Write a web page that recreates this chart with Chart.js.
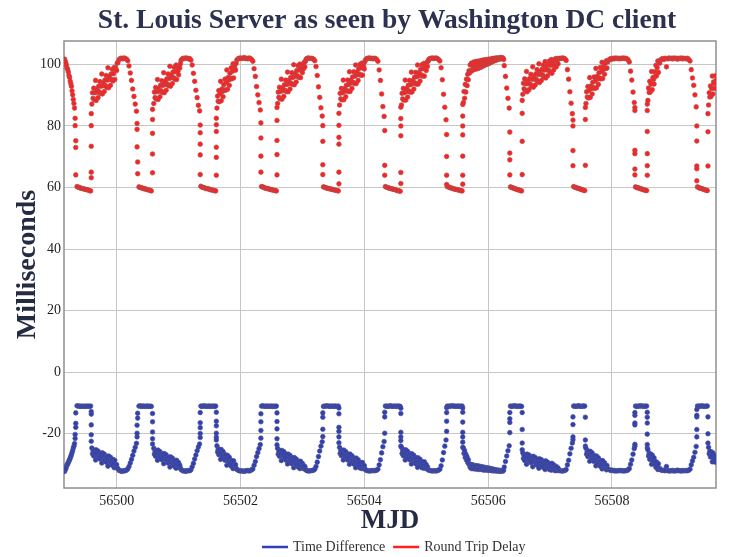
<!DOCTYPE html>
<html>
<head>
<meta charset="utf-8">
<script src="https://cdn.jsdelivr.net/npm/chart.js@4.4.1/dist/chart.umd.min.js"></script>
<style>
html,body{margin:0;padding:0;background:#fff;}
#wrap{width:735px;height:557px;position:relative;}
</style>
</head>
<body>
<div id="wrap"><canvas id="c" width="735" height="557"></canvas></div>
<script>
// ---------- text ----------
const chartTitle = 'St. Louis Server as seen by Washington DC client';
const xTitle = 'MJD';
const yTitle = 'Milliseconds';
const seriesNames = ['Time Difference', 'Round Trip Delay'];

// ---------- axes ----------
const xTicks = [56500, 56502, 56504, 56506, 56508];
const yTicks = [-20, 0, 20, 40, 60, 80, 100];
const xRange = [56499.15, 56509.68];
const yRange = [-37.6, 107.6];

// ---------- data: MJD, round trip delay (ms), time difference (ms), one group per daily cycle ----------
const mjd0 = [56499.16,56499.17,56499.18,56499.19,56499.20,56499.21,56499.22,56499.23,56499.24,56499.25,
 56499.26,56499.27,56499.28,56499.29,56499.30,56499.31,56499.32,
 56499.33,56499.33,56499.34,56499.34,56499.34];
const rtd0 = [101.7,101.0,100.4,99.6,98.8,98.3,97.5,96.4,95.8,94.6,93.7,92.9,91.4,90.1,88.6,87.3,85.8,
 82.5,80.1,75.2,73.0,64.1];
const td0 = [-32.2,-31.7,-31.3,-30.6,-30.0,-29.8,-29.3,-28.8,-28.4,-27.9,-27.3,-26.8,-26.1,-25.4,-24.6,-24.0,-23.2,
 -21.5,-20.2,-17.9,-16.6,-13.2];

const mjd1 = [56499.36,56499.38,56499.40,56499.42,56499.44,56499.46,56499.48,56499.50,56499.52,56499.54,56499.56,56499.58,
 56499.59,56499.59,56499.59,56499.59,56499.59,
 56499.60,56499.61,56499.62,56499.63,56499.64,56499.65,56499.66,56499.67,56499.68,56499.69,
 56499.70,56499.71,56499.72,56499.73,56499.74,56499.75,56499.76,56499.77,56499.78,56499.79,
 56499.80,56499.81,56499.82,56499.83,56499.84,56499.85,56499.86,56499.87,56499.88,56499.89,
 56499.90,56499.91,56499.92,56499.93,56499.94,56499.95,56499.96,56499.97,56499.98,56499.99,
 56500.00,56500.01,
 56500.02,56500.04,56500.06,56500.08,56500.10,56500.12,56500.14,56500.16,56500.18,
 56500.20,56500.22,56500.24,56500.26,56500.28,56500.30,56500.32,
 56500.33,56500.33,56500.33,56500.34,56500.34];
const rtd1 = [60.3,60.1,60.0,59.8,59.7,59.6,59.5,59.4,59.3,59.2,59.0,58.9,
 63.2,65.0,73.4,80.1,84.0,
 87.1,90.8,89.0,92.3,88.5,90.8,94.8,88.3,91.9,91.0,
 89.2,92.9,91.1,94.4,90.6,92.9,96.9,90.4,94.0,93.1,
 91.2,94.9,93.1,96.4,92.6,94.9,98.9,92.4,96.0,95.1,
 93.2,96.9,95.1,98.4,94.6,97.0,99.0,95.1,99.0,98.4,
 98.0,100.4,
 100.6,101.6,101.9,102.0,101.8,102.1,101.9,101.7,101.2,
 99.5,97.2,94.8,92.0,89.6,87.1,84.8,
 80.8,78.9,73.2,68.3,64.5];
const td1 = [-10.9,-11.0,-11.0,-11.1,-11.0,-11.1,-11.0,-11.1,-11.0,-11.0,-11.1,-11.0,
 -12.8,-13.6,-17.1,-20.3,-22.4,
 -24.6,-26.5,-25.5,-27.2,-25.3,-26.4,-28.5,-25.2,-27.0,-26.5,
 -25.6,-27.5,-26.5,-28.2,-26.3,-27.4,-29.5,-26.2,-28.0,-27.5,
 -26.6,-28.5,-27.5,-29.2,-27.3,-28.4,-30.5,-27.2,-29.0,-28.5,
 -27.6,-29.5,-28.5,-30.2,-28.3,-29.5,-31.0,-28.6,-30.5,-30.2,
 -30.0,-31.2,
 -31.3,-31.9,-32.0,-32.2,-32.0,-32.1,-31.9,-31.8,-31.4,
 -30.6,-29.5,-28.3,-27.0,-25.6,-24.4,-23.1,
 -21.0,-19.8,-17.2,-14.9,-13.3];

const mjd2 = [56500.36,56500.38,56500.40,56500.42,56500.44,56500.46,56500.48,56500.50,56500.52,56500.54,56500.56,
 56500.58,56500.58,56500.58,56500.58,56500.58,
 56500.60,56500.61,56500.62,56500.63,56500.64,56500.65,56500.66,56500.67,56500.68,56500.69,
 56500.70,56500.71,56500.72,56500.73,56500.74,56500.75,56500.76,56500.77,56500.78,56500.79,
 56500.80,56500.81,56500.82,56500.83,56500.84,56500.85,56500.86,56500.87,56500.88,56500.89,
 56500.90,56500.91,56500.92,56500.93,56500.94,56500.95,56500.96,56500.97,56500.98,56500.99,
 56501.00,56501.01,56501.02,56501.03,
 56501.04,56501.06,56501.08,56501.10,56501.12,56501.14,56501.16,56501.18,56501.20,
 56501.22,56501.24,56501.26,56501.28,56501.30,56501.32,56501.34,
 56501.35,56501.35,56501.35,56501.35,56501.35];
const rtd2 = [60.2,60.0,59.9,59.8,59.6,59.6,59.4,59.3,59.2,59.1,58.9,
 64.8,70.9,77.6,82.1,85.4,
 87.3,91.0,89.2,92.5,88.8,91.1,95.1,88.6,92.2,91.3,
 89.5,93.2,91.4,94.7,90.9,93.2,97.3,90.8,94.4,93.5,
 91.6,95.3,93.6,96.9,93.1,95.4,99.4,92.9,96.5,95.7,
 93.8,97.5,95.7,99.0,95.2,97.6,99.8,95.1,98.7,97.8,
 96.6,99.4,98.8,100.2,
 101.3,101.8,102.0,101.9,102.1,102.0,101.8,101.9,101.4,
 99.8,97.1,94.5,91.6,89.2,86.7,84.9,
 80.3,77.8,74.1,70.6,64.2];
const td2 = [-11.0,-10.9,-11.1,-11.0,-11.0,-11.1,-11.0,-11.0,-11.1,-11.0,-11.1,
 -13.4,-16.1,-19.4,-21.6,-23.3,
 -24.7,-26.6,-25.6,-27.3,-25.4,-26.5,-28.6,-25.3,-27.1,-26.6,
 -25.8,-27.7,-26.7,-28.4,-26.5,-27.6,-29.7,-26.4,-28.2,-27.7,
 -26.8,-28.7,-27.8,-29.5,-27.6,-28.7,-30.8,-27.5,-29.3,-28.8,
 -27.9,-29.8,-28.8,-30.5,-28.6,-29.8,-31.2,-28.6,-30.4,-29.9,
 -29.3,-30.7,-30.2,-31.1,
 -31.6,-31.9,-32.1,-32.0,-32.2,-32.0,-31.9,-32.0,-31.7,
 -30.7,-29.6,-28.2,-26.9,-25.5,-24.3,-23.3,
 -21.2,-19.9,-18.0,-16.4,-13.1];

const mjd3 = [56501.36,56501.38,56501.40,56501.42,56501.44,56501.46,56501.48,56501.50,56501.52,56501.54,56501.56,56501.58,56501.60,
 56501.61,56501.61,56501.61,56501.61,56501.61,56501.61,
 56501.62,56501.63,56501.64,56501.65,56501.66,56501.67,56501.68,56501.69,56501.70,56501.71,
 56501.72,56501.73,56501.74,56501.75,56501.76,56501.77,56501.78,56501.79,56501.80,56501.81,
 56501.82,56501.83,56501.84,56501.85,56501.86,56501.87,56501.88,56501.89,56501.90,56501.91,
 56501.92,56501.93,
 56501.94,56501.96,56501.98,56502.00,56502.02,56502.04,56502.06,56502.08,56502.10,56502.12,56502.14,56502.16,56502.18,56502.20,
 56502.22,56502.24,56502.26,56502.28,56502.30,56502.32,
 56502.33,56502.33,56502.33,56502.33];
const rtd3 = [60.4,60.1,60.0,59.9,59.7,59.6,59.6,59.4,59.3,59.2,59.1,59.0,58.9,
 64.0,69.8,73.1,78.2,80.4,82.5,
 85.8,89.7,88.0,91.5,87.9,90.4,94.5,88.2,92.0,91.2,
 89.5,93.4,91.7,95.2,91.6,94.1,98.2,91.9,95.7,94.9,
 93.2,97.1,95.4,98.9,95.3,97.8,100.2,95.6,99.4,98.6,
 98.1,100.3,
 101.4,101.8,102.0,102.1,101.9,102.0,102.2,101.9,102.0,101.8,102.1,101.9,101.6,101.0,
 98.6,96.1,92.8,90.1,87.6,85.2,
 81.0,76.1,70.2,65.0];
const td3 = [-11.0,-11.1,-10.9,-11.0,-11.0,-11.1,-11.0,-11.0,-11.1,-11.0,-11.0,-11.1,-11.0,
 -13.0,-15.9,-17.4,-19.8,-21.1,-22.0,
 -23.9,-25.9,-25.0,-26.8,-25.0,-26.2,-28.3,-25.1,-27.0,-26.6,
 -25.8,-27.8,-26.8,-28.6,-26.8,-28.0,-30.2,-27.0,-28.9,-28.4,
 -27.6,-29.6,-28.7,-30.5,-28.7,-29.9,-31.3,-28.8,-30.7,-30.3,
 -30.0,-31.2,
 -31.5,-31.8,-32.0,-32.1,-32.0,-32.1,-32.2,-32.0,-32.0,-31.9,-32.1,-31.9,-31.7,-31.4,
 -30.2,-29.0,-27.4,-26.1,-24.8,-23.5,
 -21.4,-18.9,-16.1,-13.5];

const mjd4 = [56502.34,56502.36,56502.38,56502.40,56502.42,56502.44,56502.46,56502.48,56502.50,56502.52,56502.54,56502.56,56502.58,
 56502.59,56502.59,56502.59,56502.59,56502.59,
 56502.60,56502.61,56502.62,56502.63,56502.64,56502.65,56502.66,56502.67,56502.68,56502.69,
 56502.70,56502.71,56502.72,56502.73,56502.74,56502.75,56502.76,56502.77,56502.78,56502.79,
 56502.80,56502.81,56502.82,56502.83,56502.84,56502.85,56502.86,56502.87,56502.88,56502.89,
 56502.90,56502.91,56502.92,56502.93,56502.94,56502.95,56502.96,56502.97,56502.98,56502.99,
 56503.00,56503.01,56503.02,56503.03,56503.04,56503.05,
 56503.06,56503.08,56503.10,56503.12,56503.14,56503.16,56503.18,56503.20,
 56503.22,56503.24,56503.26,56503.28,56503.30,56503.32,
 56503.33,56503.33,56503.33,56503.33];
const rtd4 = [60.3,60.2,60.0,59.8,59.7,59.7,59.5,59.4,59.3,59.2,59.1,59.0,58.9,
 64.1,70.7,75.3,81.8,86.0,
 87.3,91.0,89.3,92.6,88.8,91.2,95.2,88.7,92.4,91.5,
 89.6,93.4,91.6,94.9,91.2,93.5,97.5,91.1,94.7,93.8,
 92.0,95.7,93.9,97.3,93.5,95.8,99.9,93.4,97.0,96.2,
 94.3,98.0,96.3,99.6,95.8,98.2,100.1,95.7,99.4,98.5,
 97.3,100.1,98.6,100.7,99.2,101.0,
 101.7,102.0,102.1,101.9,102.0,101.9,101.7,101.2,
 99.3,96.4,92.7,89.3,85.9,83.2,
 80.1,75.0,67.4,64.2];
const td4 = [-11.0,-10.9,-11.0,-11.1,-11.0,-11.0,-11.1,-11.0,-11.0,-11.1,-11.0,-11.1,-11.0,
 -13.2,-16.0,-18.4,-21.6,-23.6,
 -24.7,-26.6,-25.6,-27.3,-25.4,-26.6,-28.7,-25.4,-27.2,-26.7,
 -25.8,-27.8,-26.8,-28.5,-26.6,-27.7,-29.8,-26.6,-28.4,-27.9,
 -27.0,-28.9,-27.9,-29.7,-27.8,-28.9,-31.0,-27.7,-29.5,-29.1,
 -28.2,-30.1,-29.1,-30.8,-28.9,-30.1,-31.3,-28.9,-30.7,-30.2,
 -29.6,-31.1,-30.3,-31.4,-30.6,-31.5,
 -31.8,-32.0,-32.1,-32.0,-32.0,-31.9,-31.8,-31.5,
 -30.6,-29.2,-27.4,-25.6,-24.0,-22.6,
 -20.9,-18.5,-14.6,-13.2];

const mjd5 = [56503.34,56503.36,56503.38,56503.40,56503.42,56503.44,56503.46,56503.48,56503.50,56503.52,56503.54,56503.56,56503.58,
 56503.59,56503.59,56503.59,56503.59,56503.59,56503.59,
 56503.60,56503.61,56503.62,56503.63,56503.64,56503.65,56503.66,56503.67,56503.68,56503.69,
 56503.70,56503.71,56503.72,56503.73,56503.74,56503.75,56503.76,56503.77,56503.78,56503.79,
 56503.80,56503.81,56503.82,56503.83,56503.84,56503.85,56503.86,56503.87,56503.88,56503.89,
 56503.90,56503.91,56503.92,56503.93,56503.94,56503.95,56503.96,56503.97,56503.98,56503.99,
 56504.00,56504.01,
 56504.02,56504.04,56504.06,56504.08,56504.10,56504.12,56504.14,56504.16,56504.18,56504.20,56504.22,
 56504.24,56504.26,56504.28,56504.30,56504.32,
 56504.33,56504.33,56504.33];
const rtd5 = [60.2,60.1,59.9,59.8,59.7,59.6,59.5,59.4,59.3,59.2,59.1,59.0,58.9,
 61.2,65.0,74.1,76.3,80.2,84.1,
 86.8,90.6,88.8,92.2,88.5,90.8,94.9,88.5,92.1,91.3,
 89.5,93.2,91.5,94.9,91.2,93.5,97.6,91.2,94.8,94.0,
 92.2,95.9,94.2,97.6,93.8,96.2,99.8,93.8,97.5,96.7,
 94.8,98.6,96.9,100.0,96.5,98.9,100.4,96.5,100.2,99.4,
 98.5,100.9,
 101.5,101.9,102.0,102.1,101.9,102.0,101.8,102.0,101.9,101.6,101.0,
 98.2,94.8,90.4,86.3,83.1,
 78.5,67.2,64.0];
const td5 = [-11.1,-11.0,-11.0,-10.9,-11.0,-11.1,-11.0,-11.0,-11.1,-11.0,-11.0,-11.1,-11.0,
 -11.6,-13.5,-17.9,-19.2,-21.0,-22.9,
 -24.4,-26.4,-25.4,-27.1,-25.3,-26.4,-28.5,-25.3,-27.1,-26.6,
 -25.8,-27.7,-26.7,-28.5,-26.6,-27.7,-29.9,-26.6,-28.4,-28.0,
 -27.1,-29.0,-28.1,-29.8,-27.9,-29.1,-31.0,-27.9,-29.8,-29.3,
 -28.4,-30.4,-29.4,-31.1,-29.3,-30.4,-31.3,-29.3,-31.1,-30.7,
 -30.3,-31.4,
 -31.7,-31.9,-32.0,-32.1,-32.0,-32.0,-31.9,-32.0,-31.9,-31.8,-31.5,
 -30.1,-28.4,-26.2,-24.2,-22.5,
 -19.8,-14.5,-13.0];

const mjd6 = [56504.34,56504.36,56504.38,56504.40,56504.42,56504.44,56504.46,56504.48,56504.50,56504.52,56504.54,56504.56,56504.58,
 56504.59,56504.59,56504.59,56504.59,56504.59,56504.59,
 56504.60,56504.61,56504.62,56504.63,56504.64,56504.65,56504.66,56504.67,56504.68,56504.69,
 56504.70,56504.71,56504.72,56504.73,56504.74,56504.75,56504.76,56504.77,56504.78,56504.79,
 56504.80,56504.81,56504.82,56504.83,56504.84,56504.85,56504.86,56504.87,56504.88,56504.89,
 56504.90,56504.91,56504.92,56504.93,56504.94,56504.95,56504.96,56504.97,56504.98,56504.99,
 56505.00,56505.01,56505.02,56505.03,
 56505.04,56505.06,56505.08,56505.10,56505.12,56505.14,56505.16,56505.18,56505.20,56505.22,
 56505.24,56505.26,56505.28,56505.30,56505.32,
 56505.33,56505.33,56505.33,56505.33];
const rtd6 = [60.3,60.1,60.0,59.8,59.7,59.6,59.5,59.4,59.3,59.1,59.0,58.9,58.8,
 61.3,64.9,76.8,80.0,82.4,86.1,
 86.8,90.6,88.8,92.2,88.4,90.8,94.9,88.4,92.1,91.2,
 89.4,93.2,91.4,94.8,91.0,93.4,97.5,91.0,94.7,93.8,
 92.0,95.8,94.0,97.4,93.6,96.0,99.8,93.6,97.3,96.4,
 94.6,98.4,96.6,99.9,96.2,98.6,100.3,96.2,99.9,99.0,
 98.0,100.7,99.3,101.0,
 101.6,101.9,102.0,102.1,101.9,102.0,102.1,101.9,101.6,101.1,
 98.9,95.0,90.3,86.1,82.0,
 77.2,70.1,64.0,61.0];
const td6 = [-11.0,-11.0,-11.1,-11.0,-10.9,-11.0,-11.1,-11.0,-11.0,-11.1,-11.0,-11.0,-11.1,
 -11.7,-13.4,-19.5,-21.0,-22.2,-24.0,
 -24.4,-26.4,-25.4,-27.1,-25.2,-26.4,-28.5,-25.2,-27.1,-26.6,
 -25.7,-27.7,-26.7,-28.4,-26.5,-27.7,-29.8,-26.5,-28.4,-27.9,
 -27.0,-29.0,-28.0,-29.7,-27.8,-29.0,-30.9,-27.8,-29.7,-29.2,
 -28.3,-30.3,-29.3,-31.0,-29.1,-30.3,-31.2,-29.1,-31.0,-30.5,
 -30.0,-31.4,-30.7,-31.5,
 -31.8,-31.9,-32.0,-32.1,-32.0,-32.0,-32.1,-31.9,-31.8,-31.5,
 -30.4,-28.5,-26.1,-24.0,-22.0,
 -19.2,-15.9,-13.1,-11.5];

const mjd7 = [56505.34,56505.36,56505.38,56505.40,56505.42,56505.44,56505.46,56505.48,56505.50,56505.52,56505.54,56505.56,56505.58,
 56505.59,56505.59,56505.59,56505.59,56505.59,56505.59,56505.59,
 56505.60,56505.61,56505.62,56505.63,56505.64,56505.65,56505.66,56505.67,56505.68,56505.69,
 56505.70,56505.71,56505.72,56505.73,56505.74,56505.75,56505.76,56505.77,56505.78,56505.79,
 56505.80,56505.81,56505.82,56505.83,56505.84,56505.85,56505.86,56505.87,56505.88,56505.89,
 56505.90,56505.91,56505.92,56505.93,56505.94,56505.95,56505.96,56505.97,56505.98,56505.99,
 56506.00,56506.01,56506.02,56506.03,56506.04,56506.05,56506.06,56506.07,56506.08,56506.09,
 56506.10,56506.11,56506.12,56506.13,56506.14,56506.15,56506.16,56506.17,56506.18,56506.19,
 56506.20,56506.21,56506.22,56506.23,56506.24,56506.25,
 56506.26,56506.28,56506.30,56506.32,56506.34,
 56506.35,56506.35,56506.35,56506.35];
const rtd7 = [60.3,60.2,60.0,59.9,59.7,59.6,59.5,59.4,59.3,59.2,59.1,59.0,58.9,
 61.1,64.0,70.2,77.1,80.0,83.2,87.0,
 87.6,91.2,89.0,93.5,91.0,95.2,93.1,96.8,95.0,97.9,
 97.2,99.8,98.0,100.4,97.9,99.6,98.3,100.8,98.6,99.9,
 98.4,101.0,99.0,100.3,98.7,101.1,99.3,100.6,99.0,101.3,
 99.4,100.9,99.5,101.5,99.7,101.0,99.9,101.6,100.1,101.2,
 100.2,101.7,100.4,101.5,100.6,101.8,100.8,101.9,101.0,101.9,
 101.2,102.0,101.3,102.1,101.5,102.1,101.6,102.0,101.8,102.2,
 101.8,102.1,102.2,101.9,102.1,101.6,
 99.6,96.1,92.3,89.0,85.8,
 78.0,71.2,69.0,64.1];
const td7 = [-11.0,-11.1,-11.0,-11.0,-10.9,-11.0,-11.0,-11.1,-11.0,-11.0,-11.1,-11.0,-11.0,
 -11.6,-13.0,-16.2,-19.5,-21.0,-22.7,-24.4,
 -24.6,-26.4,-25.4,-27.7,-26.6,-28.5,-27.5,-29.3,-28.4,-29.9,
 -29.7,-30.9,-30.1,-31.3,-30.0,-30.8,-30.2,-31.4,-30.4,-31.0,
 -30.3,-31.5,-30.6,-31.2,-30.4,-31.6,-30.7,-31.3,-30.6,-31.6,
 -30.8,-31.5,-30.8,-31.8,-30.9,-31.5,-31.0,-31.8,-31.1,-31.6,
 -31.1,-31.9,-31.2,-31.8,-31.3,-31.9,-31.4,-32.0,-31.5,-32.0,
 -31.6,-32.0,-31.7,-32.1,-31.8,-32.1,-31.8,-32.0,-31.9,-32.2,
 -31.9,-32.1,-32.1,-32.0,-32.1,-31.8,
 -30.8,-29.0,-27.2,-25.5,-23.9,
 -19.6,-16.3,-15.1,-13.1];

const mjd8 = [56506.36,56506.38,56506.40,56506.42,56506.44,56506.46,56506.48,56506.50,56506.52,56506.54,
 56506.55,56506.55,56506.55,56506.55,
 56506.56,56506.57,56506.58,56506.59,56506.60,56506.61,56506.62,56506.63,56506.64,56506.65,
 56506.66,56506.67,56506.68,56506.69,56506.70,56506.71,56506.72,56506.73,56506.74,56506.75,
 56506.76,56506.77,56506.78,56506.79,56506.80,56506.81,56506.82,56506.83,56506.84,56506.85,
 56506.86,56506.87,56506.88,56506.89,56506.90,56506.91,56506.92,56506.93,56506.94,56506.95,
 56506.96,56506.97,56506.98,56506.99,
 56507.00,56507.01,56507.02,56507.03,56507.04,56507.05,56507.06,56507.07,56507.08,56507.09,
 56507.10,56507.11,56507.12,56507.13,
 56507.14,56507.16,56507.18,56507.20,56507.22,56507.24,56507.26,
 56507.28,56507.30,56507.32,56507.34,56507.36,
 56507.37,56507.37,56507.37,56507.37];
const rtd8 = [60.2,60.0,59.9,59.7,59.6,59.4,59.3,59.2,59.0,58.9,
 64.2,75.0,84.1,88.3,
 90.3,93.9,92.1,95.3,91.5,93.7,97.7,91.1,94.7,93.7,
 91.8,95.4,93.6,96.8,93.0,95.2,99.2,92.6,96.2,95.2,
 93.3,96.9,95.1,98.3,94.5,96.7,100.2,94.1,97.7,96.7,
 94.8,98.4,96.6,99.8,96.0,98.2,100.9,95.6,99.2,98.2,
 96.3,99.9,98.1,101.1,97.5,99.7,101.6,97.1,100.7,99.7,
 98.2,101.4,99.6,101.9,99.2,101.2,101.9,100.2,
 101.8,102.0,101.9,102.1,102.0,101.8,101.3,
 98.3,95.2,91.1,87.4,84.0,
 81.9,80.0,72.0,67.1];
const td8 = [-11.0,-11.1,-11.0,-10.9,-11.0,-11.0,-11.1,-11.0,-11.0,-11.1,
 -13.1,-18.6,-23.0,-25.2,
 -26.2,-28.0,-27.0,-28.7,-26.8,-27.8,-29.9,-26.6,-28.4,-27.8,
 -26.9,-28.8,-27.8,-29.4,-27.5,-28.6,-30.7,-27.3,-29.1,-28.6,
 -27.7,-29.5,-28.5,-30.2,-28.3,-29.3,-31.2,-28.1,-29.9,-29.3,
 -28.4,-30.3,-29.3,-30.9,-29.0,-30.1,-31.6,-28.8,-30.6,-30.1,
 -29.2,-31.0,-30.0,-31.6,-29.8,-30.8,-31.8,-29.6,-31.4,-30.8,
 -30.1,-31.8,-30.8,-32.0,-30.6,-31.6,-31.9,-31.1,
 -31.9,-32.0,-32.0,-32.1,-32.0,-31.9,-31.6,
 -30.1,-28.6,-26.5,-24.7,-23.0,
 -21.9,-21.0,-17.0,-14.5];

const mjd9 = [56507.38,56507.40,56507.42,56507.44,56507.46,56507.48,56507.50,56507.52,56507.54,56507.56,
 56507.57,56507.57,56507.57,
 56507.58,56507.59,56507.60,56507.61,56507.62,56507.63,56507.64,56507.65,56507.66,56507.67,
 56507.68,56507.69,56507.70,56507.71,56507.72,56507.73,56507.74,56507.75,56507.76,56507.77,
 56507.78,56507.79,56507.80,56507.81,56507.82,56507.83,56507.84,56507.85,56507.86,56507.87,
 56507.88,56507.89,56507.90,56507.91,56507.92,56507.93,
 56507.94,56507.96,56507.98,56508.00,56508.02,56508.04,56508.06,56508.08,56508.10,56508.12,56508.14,56508.16,56508.18,56508.20,56508.22,56508.24,56508.26,56508.28,
 56508.30,56508.32,56508.34,56508.36,
 56508.37,56508.37,56508.37,56508.37,56508.37,56508.37];
const rtd9 = [60.3,60.1,60.0,59.8,59.7,59.6,59.4,59.3,59.1,59.0,
 67.2,82.1,86.0,
 87.3,91.1,89.4,92.8,89.1,91.5,95.7,89.3,93.0,92.2,
 90.4,94.2,92.5,95.9,92.2,94.6,98.7,92.4,96.1,95.3,
 93.5,97.3,95.6,99.0,95.3,97.7,100.7,95.4,99.2,98.4,
 96.8,100.3,98.7,101.2,98.8,100.8,
 101.2,101.6,101.9,101.7,102.0,101.8,102.1,101.9,102.0,101.8,102.0,101.9,102.1,101.9,102.0,101.8,101.5,100.8,
 97.8,94.9,91.0,87.6,
 86.0,85.0,72.1,71.0,66.0,64.1];
const td9 = [-11.0,-11.0,-11.1,-11.0,-10.9,-11.0,-11.1,-11.0,-11.0,-11.0,
 -14.6,-22.0,-24.0,
 -24.7,-26.6,-25.7,-27.4,-25.6,-26.7,-28.9,-25.7,-27.5,-27.1,
 -26.2,-28.2,-27.2,-29.0,-27.1,-28.3,-30.4,-27.2,-29.1,-28.6,
 -27.8,-29.7,-28.8,-30.5,-28.7,-29.8,-31.4,-28.7,-30.6,-30.2,
 -29.4,-31.2,-30.3,-31.7,-30.3,-31.4,
 -31.5,-31.7,-31.9,-31.8,-32.0,-31.9,-32.1,-32.0,-32.0,-31.9,-32.0,-31.9,-32.1,-32.0,-32.0,-31.9,-31.7,-31.3,
 -29.9,-28.5,-26.6,-24.8,
 -24.0,-23.4,-17.1,-16.5,-14.0,-13.1];

const mjd10 = [56508.38,56508.40,56508.42,56508.44,56508.46,56508.48,56508.50,56508.52,56508.54,56508.56,
 56508.57,56508.57,56508.57,56508.57,56508.57,56508.57,
 56508.58,56508.59,56508.60,56508.61,56508.62,56508.63,56508.64,56508.65,56508.66,56508.67,
 56508.68,56508.69,56508.70,56508.71,56508.72,56508.73,56508.74,56508.75,56508.76,56508.77,
 56508.78,56508.80,56508.82,56508.84,56508.86,56508.88,56508.90,56508.92,56508.94,56508.96,56508.98,
 56509.00,56509.02,56509.04,56509.06,56509.08,56509.10,56509.12,56509.14,56509.16,56509.18,56509.20,56509.22,56509.24,56509.26,
 56509.28,56509.30,56509.32,56509.34,56509.36,
 56509.37,56509.37,56509.37,56509.37,56509.37];
const rtd10 = [60.2,60.0,59.9,59.8,59.6,59.5,59.4,59.2,59.1,59.0,
 64.0,67.1,71.0,78.2,85.0,87.1,
 88.3,92.3,90.9,94.5,91.0,93.6,97.7,91.8,95.7,95.1,
 93.6,97.6,96.1,99.7,96.3,98.9,101.1,97.4,101.0,100.4,
 101.3,101.7,101.9,101.6,102.0,99.2,101.8,102.1,101.9,102.0,101.8,
 102.1,101.9,102.0,101.7,102.0,101.9,102.1,101.8,102.0,101.9,101.8,102.0,101.6,101.1,
 98.3,95.6,93.2,90.1,86.2,
 80.0,75.1,67.0,66.1,62.2];
const td10 = [-11.0,-11.1,-11.0,-11.0,-10.9,-11.0,-11.0,-11.1,-11.0,-11.0,
 -13.0,-14.6,-16.5,-20.1,-23.5,-24.6,
 -25.2,-27.2,-26.4,-28.3,-26.5,-27.8,-29.9,-26.9,-28.9,-28.5,
 -27.8,-29.9,-29.0,-30.9,-29.2,-30.4,-31.6,-29.7,-31.5,-31.2,
 -31.6,-31.8,-31.9,-31.8,-32.0,-30.6,-31.9,-32.1,-32.0,-32.0,-31.9,
 -32.1,-32.0,-32.0,-31.8,-32.0,-32.0,-32.1,-31.9,-32.0,-32.0,-31.9,-32.0,-31.8,-31.5,
 -30.1,-28.8,-27.6,-26.0,-24.1,
 -21.0,-18.6,-14.5,-14.0,-12.1];

const mjd11 = [56509.38,56509.40,56509.42,56509.44,56509.46,56509.48,56509.50,56509.52,56509.54,
 56509.55,56509.55,56509.55,
 56509.56,56509.57,56509.58,56509.59,56509.60,56509.61,56509.62,56509.63,56509.64,56509.65,
 56509.66,56509.67,56509.68];
const rtd11 = [60.2,60.0,59.8,59.7,59.6,59.4,59.3,59.1,59.0,
 67.0,78.1,84.0,
 86.8,90.8,89.4,93.0,89.6,92.2,96.2,90.4,94.3,93.8,
 92.2,96.3,94.8];
const td11 = [-11.0,-11.0,-11.1,-10.9,-11.0,-11.0,-11.1,-11.0,-11.0,
 -14.5,-20.0,-23.0,
 -24.4,-26.5,-25.7,-27.5,-25.8,-27.1,-29.1,-26.2,-28.2,-27.9,
 -27.1,-29.2,-28.4];

// ---------- build library data ----------
const segments = [
  [mjd0, rtd0, td0], [mjd1, rtd1, td1], [mjd2, rtd2, td2], [mjd3, rtd3, td3],
  [mjd4, rtd4, td4], [mjd5, rtd5, td5], [mjd6, rtd6, td6], [mjd7, rtd7, td7],
  [mjd8, rtd8, td8], [mjd9, rtd9, td9], [mjd10, rtd10, td10], [mjd11, rtd11, td11]
];
const rtdPoints = [], tdPoints = [];
segments.forEach(([t, r, d]) => {
  t.forEach((x, i) => {
    if (r[i] !== undefined) rtdPoints.push({x: x, y: r[i]});
    if (d[i] !== undefined) tdPoints.push({x: x, y: d[i]});
  });
});

const blue = '#2f3fb4', red = '#ff2121';
const serif = '"Liberation Serif", "Times New Roman", serif';

const decorPlugin = {
  id: 'decor',
  beforeDatasetsDraw(chart) {
    const {ctx, chartArea: a} = chart;
    ctx.save();
    ctx.strokeStyle = '#8f8f8f';
    ctx.lineWidth = 1.5;
    ctx.strokeRect(a.left, a.top, a.right - a.left, a.bottom - a.top);
    ctx.restore();
  },
  afterDraw(chart) {
    const {ctx, chartArea: a} = chart;
    ctx.save();
    // title
    ctx.fillStyle = '#2c3150';
    ctx.font = 'bold 27.5px ' + serif;
    ctx.textAlign = 'center';
    ctx.textBaseline = 'alphabetic';
    ctx.fillText(chartTitle, (a.left + a.right) / 2 - 3, 28);
    // legend
    ctx.font = '14px ' + serif;
    ctx.textAlign = 'left';
    ctx.textBaseline = 'middle';
    const y = 547;
    let x = 262;
    const cols = [blue, red];
    seriesNames.forEach((name, i) => {
      ctx.strokeStyle = cols[i];
      ctx.lineWidth = 2.5;
      ctx.beginPath(); ctx.moveTo(x, y); ctx.lineTo(x + 26, y); ctx.stroke();
      x += 31;
      ctx.fillStyle = '#333';
      ctx.fillText(name, x, y);
      x += ctx.measureText(name).width + 8;
    });
    ctx.restore();
  }
};

new Chart(document.getElementById('c'), {
  type: 'scatter',
  data: {
    datasets: [
      {label: seriesNames[0], data: tdPoints, pointRadius: 2.3, pointHoverRadius: 0,
       pointBackgroundColor: blue, pointBorderColor: '#4d5290', pointBorderWidth: 0.7},
      {label: seriesNames[1], data: rtdPoints, pointRadius: 2.3, pointHoverRadius: 0,
       pointBackgroundColor: red, pointBorderColor: '#b34a4a', pointBorderWidth: 0.7}
    ]
  },
  options: {
    responsive: false,
    animation: false,
    devicePixelRatio: 1,
    events: [],
    layout: {padding: {top: 41, right: 19, bottom: 0, left: 0}, autoPadding: false},
    plugins: {legend: {display: false}, title: {display: false}, tooltip: {enabled: false}},
    scales: {
      x: {
        type: 'linear', min: xRange[0], max: xRange[1],
        afterFit(s) { s.height = 69; },
        afterBuildTicks(s) { s.ticks = xTicks.map(v => ({value: v})); },
        grid: {color: '#c6c6c6', lineWidth: 1, drawTicks: false},
        border: {display: false},
        ticks: {padding: 5, color: '#1e1e1e', font: {family: serif, size: 14},
                autoSkip: false, maxRotation: 0, callback: v => String(v)},
        title: {display: true, text: xTitle, color: '#262b44',
                font: {family: serif, size: 27, weight: 'bold'}, padding: {top: 0, bottom: 20}}
      },
      y: {
        type: 'linear', min: yRange[0], max: yRange[1],
        afterFit(s) { s.width = 64; },
        afterBuildTicks(s) { s.ticks = yTicks.map(v => ({value: v})); },
        grid: {color: '#c6c6c6', lineWidth: 1, drawTicks: false},
        border: {display: false},
        ticks: {padding: 3, color: '#1e1e1e', font: {family: serif, size: 14},
                autoSkip: false, callback: v => String(v)},
        title: {display: true, text: yTitle, color: '#262b44',
                font: {family: serif, size: 28, weight: 'bold'}, padding: {top: 11, bottom: 0}}
      }
    }
  },
  plugins: [decorPlugin]
});
</script>
</body>
</html>
